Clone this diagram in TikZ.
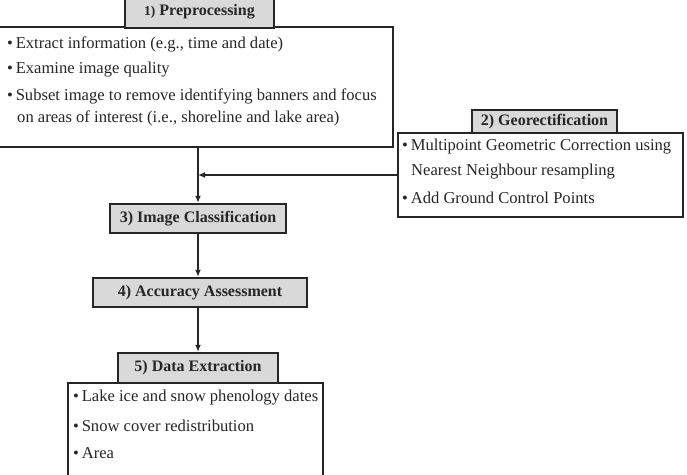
\documentclass[tikz,border=0pt]{standalone}
\usepackage{fontspec}
\setmainfont{Liberation Serif}
\usetikzlibrary{arrows.meta}
\begin{document}
\begin{tikzpicture}[x=1pt,y=-1pt,
  box/.style={draw=black!85, line width=2.4pt, inner sep=0pt},
  head/.style={box, fill=black!15, text=black!85, font=\fontsize{16}{19}\selectfont\bfseries},
  item/.style={anchor=west, inner sep=0pt, font=\fontsize{16.6}{19}\selectfont, text=black!85},
  arr/.style={draw=black!85, line width=1.6pt, -{Latex[length=7pt,width=6pt]}}]
\useasboundingbox (0,0) rectangle (687,474);
\clip (0,0) rectangle (687,474);
% 1) Preprocessing
\node[box, minimum width=405pt, minimum height=120pt] (prebody) at (190.5,87) {};
\node[head, minimum width=149pt, minimum height=32pt] (prehead) at (199.5,12) {{\fontsize{13.5}{15}\selectfont 1)} Preprocessing};
\node[item] (p1) at (7,44) {•\,Extract information (e.g., time and date)};
\node[item] (p2) at (7,70) {•\,Examine image quality};
\node[item] (p3) at (7,96) {•\,Subset image to remove identifying banners and focus};
\node[item] (p4) at (17,118) {on areas of interest (i.e., shoreline and lake area)};
% 2) Georectification
\node[box, minimum width=285pt, minimum height=84pt] (geobody) at (540.5,175) {};
\node[head, minimum width=145pt, minimum height=23pt] (geohead) at (544.5,121.5) {2) Georectification};
\node[item] (g1) at (402,147) {•\,Multipoint Geometric Correction using};
\node[item] (g2) at (411,172) {Nearest Neighbour resampling};
\node[item] (g3) at (402,198) {•\,Add Ground Control Points};
% 3) and 4)
\node[head, minimum width=176pt, minimum height=29pt] (cls) at (198,218.5) {3) Image Classification};
\node[head, minimum width=214pt, minimum height=29pt] (acc) at (200,292.5) {4) Accuracy Assessment};
% 5) Data Extraction
\node[head, minimum width=160pt, minimum height=30pt] (dexhead) at (198,368) {5) Data Extraction};
\node[box, minimum width=255pt, minimum height=110pt] (dexbody) at (195.5,438) {};
\node[item] (d1) at (73,398) {•\,Lake ice and snow phenology dates};
\node[item] (d2) at (73,426) {•\,Snow cover redistribution};
\node[item] (d3) at (73,453) {•\,Area};
% connectors
\coordinate (join) at (cls.north |- geobody.west);
\draw[arr] (prebody.south -| cls.north) -- (cls.north);
\draw[arr] (geobody.west) -- (join);
\draw[arr] (cls.south) -- (cls.south |- acc.north);
\draw[arr] (acc.south -| dexhead.north) -- (dexhead.north);
\end{tikzpicture}
\end{document}
